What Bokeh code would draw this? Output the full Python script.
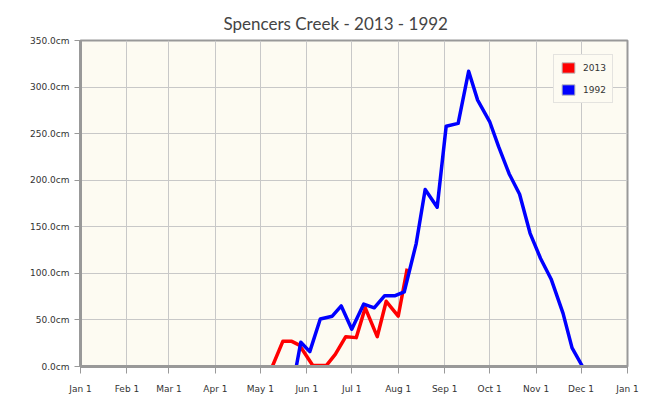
import pandas as pd
from bokeh.plotting import figure
from bokeh.models import FixedTicker, PrintfTickFormatter, Legend, LegendItem, Range1d, Title
from bokeh.embed import file_html
from bokeh.resources import INLINE

# ---- data (snow depth, cm) ----
dates_2013 = ["2013-05-09", "2013-05-16", "2013-05-22", "2013-05-27", "2013-06-05",
              "2013-06-14", "2013-06-20", "2013-06-27", "2013-07-04", "2013-07-10",
              "2013-07-18", "2013-07-24", "2013-08-01", "2013-08-07"]
depth_2013 = [0, 27, 27, 23, 1, 1, 13, 32, 31, 63, 32, 70, 54, 105]

dates_1992 = ["2013-05-25", "2013-05-28", "2013-06-03", "2013-06-10", "2013-06-18",
              "2013-06-24", "2013-07-01", "2013-07-09", "2013-07-16", "2013-07-23",
              "2013-07-30", "2013-08-05", "2013-08-13", "2013-08-19", "2013-08-27",
              "2013-09-02", "2013-09-10", "2013-09-17", "2013-09-23", "2013-10-01",
              "2013-10-07", "2013-10-14", "2013-10-21", "2013-10-28", "2013-11-04",
              "2013-11-11", "2013-11-19", "2013-11-25", "2013-12-02"]
depth_1992 = [0, 26, 16, 51, 54, 65, 40, 67, 63, 76,
              76, 80, 132, 190, 171, 258, 261, 317, 286, 263,
              236, 207, 185, 143, 116, 94, 57, 20, 0]

tick_dates = ["2013-01-01", "2013-02-01", "2013-03-01", "2013-04-01", "2013-05-01",
              "2013-06-01", "2013-07-01", "2013-08-01", "2013-09-01", "2013-10-01",
              "2013-11-01", "2013-12-01", "2014-01-01"]
tick_labels = ["Jan 1", "Feb 1", "Mar 1", "Apr 1", "May 1", "Jun 1", "Jul 1",
               "Aug 1", "Sep 1", "Oct 1", "Nov 1", "Dec 1", "Jan 1"]
y_ticks = [0, 50, 100, 150, 200, 250, 300, 350]

series_names = ["2013", "1992"]
series_colors = ["#ff0000", "#0000ff"]

def to_ms(ds):
    return [pd.Timestamp(d).value / 1e6 for d in ds]

tick_ms = to_ms(tick_dates)

p = figure(width=642, height=396, x_axis_type="datetime",
           output_backend="svg", toolbar_location=None,
           x_range=Range1d(tick_ms[0], tick_ms[-1]), y_range=Range1d(0, 350),
           min_border_left=80, min_border_right=15, min_border_top=40,
           min_border_bottom=10)

p.title = Title(text="Spencers Creek - 2013 - 1992", align="left",
                text_font="Lato", text_font_size="17px", text_color="#444444",
                text_font_style="normal", offset=143, standoff=14)

p.border_fill_color = "#ffffff"
p.background_fill_color = "#fdfbf2"
p.outline_line_color = "#999999"
p.outline_line_width = 2

p.xgrid.ticker = FixedTicker(ticks=tick_ms)
p.ygrid.ticker = FixedTicker(ticks=y_ticks)
for g in (p.xgrid, p.ygrid):
    g.grid_line_color = "#c8c8c8"
    g.grid_line_width = 1

xa = p.xaxis[0]
xa.ticker = FixedTicker(ticks=tick_ms)
xa.major_label_overrides = {t: l for t, l in zip(tick_ms, tick_labels)}
ya = p.yaxis[0]
ya.ticker = FixedTicker(ticks=y_ticks)
ya.formatter = PrintfTickFormatter(format="%.1fcm")
for ax in (xa, ya):
    ax.axis_line_color = "#999999"
    ax.axis_line_width = 3
    ax.major_tick_line_color = "#999999"
    ax.major_tick_in = 0
    ax.minor_tick_line_color = None
    ax.major_label_text_font = "DejaVu Sans"
    ax.major_label_text_font_size = "9px"
    ax.major_label_text_color = "#333333"
xa.major_tick_out = 7
xa.major_label_standoff = 10
ya.major_tick_out = 6
ya.major_label_standoff = 5

all_dates = [dates_2013, dates_1992]
all_vals = [depth_2013, depth_1992]
items = []
for name, color, ds, vs in zip(series_names, series_colors, all_dates, all_vals):
    p.line(to_ms(ds), vs, line_color=color, line_width=3.5, line_join="round")
    sw = p.quad(left=[float("nan")], right=[float("nan")], top=[float("nan")],
                bottom=[float("nan")], fill_color=color,
                line_color="#bbbbbb", line_width=1)
    items.append(LegendItem(label=name, renderers=[sw]))

legend = Legend(items=items, location=(473, 263))
legend.border_line_color = "#cccccc"
legend.border_line_width = 1
legend.background_fill_color = "#fdfbf2"
legend.background_fill_alpha = 1
legend.label_text_font = "DejaVu Sans"
legend.label_text_font_size = "9px"
legend.label_text_color = "#333333"
legend.glyph_width = 16
legend.glyph_height = 13
legend.spacing = 9
legend.padding = 6
legend.margin = 0
legend.label_standoff = 7
legend.label_height = 13
p.add_layout(legend, "center")

open("out.html", "w").write(file_html(p, INLINE))
